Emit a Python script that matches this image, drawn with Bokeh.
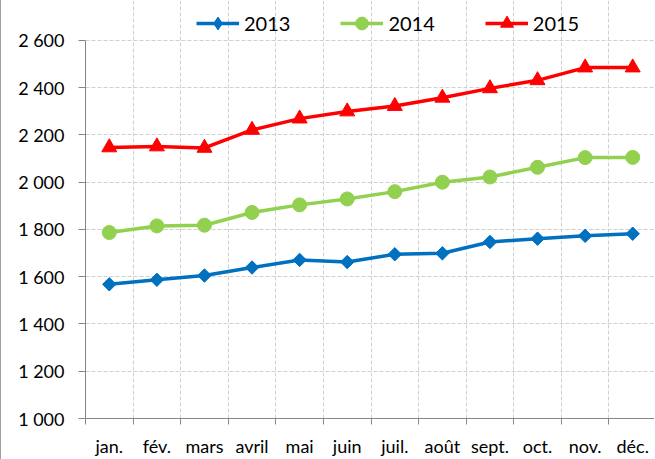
import numpy as np
from bokeh.plotting import figure
from bokeh.models import (ColumnDataSource, Range1d, FixedTicker, Legend, LegendItem)
from bokeh.embed import file_html
from bokeh.resources import INLINE

months = ["jan.", "fév.", "mars", "avril", "mai", "juin", "juil.", "août", "sept.", "oct.", "nov.", "déc."]
v2013 = [1568, 1587, 1605, 1639, 1671, 1662, 1695, 1699, 1747, 1761, 1773, 1782]
v2014 = [1787, 1815, 1818, 1872, 1904, 1929, 1960, 2000, 2022, 2063, 2104, 2105]
v2015 = [2147, 2151, 2145, 2221, 2269, 2299, 2322, 2357, 2397, 2431, 2485, 2485]
y_ticks = [1000, 1200, 1400, 1600, 1800, 2000, 2200, 2400, 2600]
y_tick_labels = ["1 000", "1 200", "1 400", "1 600", "1 800", "2 000", "2 200", "2 400", "2 600"]

FONT = "Lato"
x_pos = [i + 0.5 for i in range(len(months))]
src = ColumnDataSource(dict(x=x_pos, v2013=v2013, v2014=v2014, v2015=v2015))

# frame spans figure y 0..419; the data area 1000..2600 occupies y 40..419
y_top = 1000 + 419 * 1600 / 379
p = figure(width=654, height=459, output_backend="svg", toolbar_location=None,
           x_range=Range1d(0, 12 * 570 / 571), y_range=Range1d(1000, y_top),
           min_border_left=84, min_border_right=0, min_border_top=0, min_border_bottom=40)
p.outline_line_color = None
p.background_fill_color = "white"
p.border_fill_color = "white"

# axes
xt = FixedTicker(ticks=x_pos, minor_ticks=list(range(0, 13)))
p.xaxis.ticker = xt
p.xaxis.major_label_overrides = {x: m for x, m in zip(x_pos, months)}
p.xaxis.major_tick_line_color = None
p.xaxis.major_tick_out = 0
p.xaxis.major_tick_in = 0
p.xaxis.minor_tick_out = 6
p.xaxis.minor_tick_in = 0
p.xaxis.minor_tick_line_color = "#868686"
p.xaxis.axis_line_color = "#868686"
p.xaxis.major_label_standoff = 10
p.xaxis.major_label_text_font = FONT
p.xaxis.major_label_text_font_size = "18px"
p.xaxis.major_label_text_color = "black"

p.yaxis.ticker = FixedTicker(ticks=y_ticks)
p.yaxis.bounds = (y_ticks[0], y_ticks[-1])
p.yaxis.major_label_overrides = {t: l for t, l in zip(y_ticks, y_tick_labels)}
p.yaxis.minor_tick_line_color = None
p.yaxis.major_tick_out = 7
p.yaxis.major_tick_in = 0
p.yaxis.major_tick_line_color = "#868686"
p.yaxis.axis_line_color = "#868686"
p.yaxis.major_label_standoff = 14
p.yaxis.major_label_text_font = FONT
p.yaxis.major_label_text_font_size = "18px"
p.yaxis.major_label_text_color = "black"

# grids
p.xgrid.ticker = FixedTicker(ticks=list(range(1, 13)))
p.xgrid.bounds = (y_ticks[0], y_ticks[-1])
p.xgrid.grid_line_color = "#D0D0D0"
p.xgrid.grid_line_dash = "4 2"
p.ygrid.ticker = FixedTicker(ticks=y_ticks[1:])
p.ygrid.grid_line_color = "#D0D0D0"
p.ygrid.grid_line_dash = "4 2"

blue, green, red = "#0070C0", "#92D050", "#FF0000"
l13 = p.line("x", "v2013", source=src, line_color=blue, line_width=3.5)
# diamond drawn under the rotated squares (gives the legend its diamond symbol)
d13 = p.scatter("x", "v2013", source=src, marker="diamond", size=12,
                fill_color=blue, line_color=blue)
s13 = p.scatter("x", "v2013", source=src, marker="square", angle=np.pi / 4, size=9.5,
                fill_color=blue, line_color=blue)
l14 = p.line("x", "v2014", source=src, line_color=green, line_width=3.5)
s14 = p.scatter("x", "v2014", source=src, marker="circle", size=14,
                fill_color=green, line_color=green)
l15 = p.line("x", "v2015", source=src, line_color=red, line_width=3.5)
s15 = p.scatter("x", "v2015", source=src, marker="triangle", size=15,
                fill_color=red, line_color=red)

legend = Legend(items=[LegendItem(label="2013", renderers=[l13, d13]),
                       LegendItem(label="2014", renderers=[l14, s14]),
                       LegendItem(label="2015", renderers=[l15, s15])],
                orientation="horizontal", location=(111, 379), margin=0, padding=0,
                spacing=50, glyph_width=43, glyph_height=32, label_standoff=5,
                label_text_font=FONT, label_text_font_size="20px",
                label_text_color="black",
                border_line_color=None, background_fill_alpha=0)
p.add_layout(legend, "center")
p.styles = {"border-left": "1px solid #A0A0A0"}

open("out.html", "w").write(file_html(p, INLINE))
